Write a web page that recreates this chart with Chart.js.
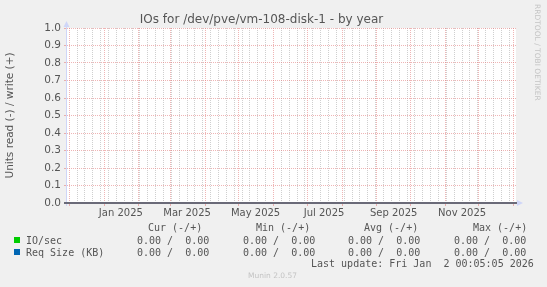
<!DOCTYPE html>
<html>
<head>
<meta charset="utf-8">
<script src="https://cdn.jsdelivr.net/npm/chart.js@4.4.1/dist/chart.umd.min.js"></script>
<style>
html, body { margin: 0; padding: 0; background: #f0f0f0; }
#wrap { position: relative; width: 547px; height: 287px; overflow: hidden; }
canvas { position: absolute; left: 0; top: 0; }
.t { position: absolute; white-space: pre; font-family: "DejaVu Sans Mono", monospace; font-size: 10px; line-height: 12px; color: #555; }
.sq { position: absolute; width: 6px; height: 6px; }
#rrd { position: absolute; left: 533px; top: 4px; writing-mode: vertical-rl; font-family: "DejaVu Sans", sans-serif; font-size: 7.5px; color: #c4c4c4; white-space: nowrap; }
#munin { position: absolute; left: 0; width: 545px; top: 271px; text-align: center; font-family: "DejaVu Sans", sans-serif; font-size: 7.5px; color: #c4c4c4; }
</style>
</head>
<body>
<div id="wrap">
  <canvas id="chart" width="547" height="287"></canvas>
  <div id="legend"></div>
  <div id="rrd">RRDTOOL / TOBI OETIKER</div>
  <div id="munin">Munin 2.0.57</div>
</div>
<script>
// x values are days since 29 Nov 2024 (graph start)
var xMin = 0;
var xMax = 400;
var monthStartDays = [2, 33, 64, 92, 123, 153, 184, 214, 245, 276, 306, 337, 367, 398];
var tickLabels = ['Jan 2025', 'Mar 2025', 'May 2025', 'Jul 2025', 'Sep 2025', 'Nov 2025'];
var tickLabelDays = [48, 107, 168, 229, 291, 352];
var firstSunday = 2;

// samples (all zero for the whole year)
var sampleDays = [0, 33, 64, 92, 123, 153, 184, 214, 245, 276, 306, 337, 367, 398, 400];
var ioRead   = [0, 0, 0, 0, 0, 0, 0, 0, 0, 0, 0, 0, 0, 0, 0];
var ioWrite  = [0, 0, 0, 0, 0, 0, 0, 0, 0, 0, 0, 0, 0, 0, 0];
var reqRead  = [0, 0, 0, 0, 0, 0, 0, 0, 0, 0, 0, 0, 0, 0, 0];
var reqWrite = [0, 0, 0, 0, 0, 0, 0, 0, 0, 0, 0, 0, 0, 0, 0];

var seriesNames = ['IO/sec', 'Req Size (KB)'];
var seriesColors = ['#00cc00', '#0066b3'];
// [read, write] per series
var curVals = [[0, 0], [0, 0]];
var minVals = [[0, 0], [0, 0]];
var avgVals = [[0, 0], [0, 0]];
var maxVals = [[0, 0], [0, 0]];
var lastUpdate = 'Last update: Fri Jan  2 00:05:05 2026';

var MAJOR = 'rgba(226, 120, 120, 0.55)';
var MINOR = 'rgba(175, 175, 175, 0.6)';
var AXIS = '#cfd6f8';

function pts(vals, sign) {
    return sampleDays.map(function(d, i) { return {x: d, y: sign * vals[i]}; });
}

// x tick positions: weekly minor lines, monthly major lines, label positions
var weekly = [];
for (var d = firstSunday; d <= xMax; d += 7) weekly.push(d);
var allTicks = {};
weekly.forEach(function(v) { allTicks[v] = 'minor'; });
monthStartDays.forEach(function(v) { allTicks[v] = 'major'; });
tickLabelDays.forEach(function(v) { if (!allTicks[v]) allTicks[v] = 'label'; });

function kindOf(v) { return allTicks[v] || 'label'; }

var axesPlugin = {
    id: 'rrdAxes',
    beforeDraw: function(chart) {
        var a = chart.chartArea, c = chart.ctx;
        c.save();
        c.fillStyle = '#ffffff';
        c.fillRect(a.left, a.top, a.right - a.left, a.bottom - a.top);
        c.restore();
    },
    afterDatasetsDraw: function(chart) {
        var a = chart.chartArea, c = chart.ctx;
        var x0 = Math.round(a.left) - 0.5;
        c.save();
        c.lineWidth = 1;
        // y axis with arrow
        c.strokeStyle = AXIS;
        c.beginPath();
        c.moveTo(x0, a.bottom + 3);
        c.lineTo(x0, a.top - 3);
        c.stroke();
        c.fillStyle = AXIS;
        c.beginPath();
        c.moveTo(x0 - 3, a.top - 1);
        c.lineTo(x0 + 3, a.top - 1);
        c.lineTo(x0, a.top - 7);
        c.closePath();
        c.fill();
        // x axis arrow
        c.beginPath();
        c.moveTo(a.right + 1, a.bottom - 3);
        c.lineTo(a.right + 1, a.bottom + 3);
        c.lineTo(a.right + 7, a.bottom);
        c.closePath();
        c.fill();
        // zero line (covers the zero-valued series)
        c.strokeStyle = '#6a6a78';
        c.lineWidth = 2;
        c.beginPath();
        c.moveTo(a.left - 3, a.bottom);
        c.lineTo(a.right + 1, a.bottom);
        c.stroke();
        c.restore();
    }
};

new Chart(document.getElementById('chart').getContext('2d'), {
    type: 'line',
    data: {
        datasets: [
            { label: 'IO/sec read', data: pts(ioRead, -1), borderColor: seriesColors[0], borderWidth: 1, pointRadius: 0 },
            { label: 'IO/sec write', data: pts(ioWrite, 1), borderColor: seriesColors[0], borderWidth: 1, pointRadius: 0 },
            { label: 'Req Size read', data: pts(reqRead, -1), borderColor: seriesColors[1], borderWidth: 1, pointRadius: 0 },
            { label: 'Req Size write', data: pts(reqWrite, 1), borderColor: seriesColors[1], borderWidth: 1, pointRadius: 0 }
        ]
    },
    options: {
        responsive: false,
        animation: false,
        devicePixelRatio: 1,
        layout: { padding: { left: 0, right: 24, top: 0, bottom: 0 } },
        plugins: {
            legend: { display: false },
            tooltip: { enabled: false },
            title: {
                display: true,
                text: 'IOs for /dev/pve/vm-108-disk-1 - by year',
                color: '#555',
                font: { family: 'DejaVu Sans', size: 12, weight: 'normal' },
                padding: { top: 13, bottom: 0.6 }
            }
        },
        scales: {
            x: {
                type: 'linear',
                min: xMin,
                max: xMax,
                afterFit: function(s) { s.height = 84; },
                afterBuildTicks: function(s) {
                    s.ticks = Object.keys(allTicks).map(Number).sort(function(a, b) { return a - b; })
                        .map(function(v) { return {value: v}; });
                },
                ticks: {
                    autoSkip: false,
                    maxRotation: 0,
                    padding: 1,
                    color: '#555',
                    font: { family: 'DejaVu Sans', size: 10 },
                    callback: function(v) {
                        var i = tickLabelDays.indexOf(v);
                        return i >= 0 ? tickLabels[i] : '';
                    }
                },
                grid: {
                    lineWidth: 1,
                    tickLength: 3,
                    color: function(ctx) {
                        var k = ctx.tick ? kindOf(ctx.tick.value) : 'label';
                        return k === 'major' ? MAJOR : k === 'minor' ? MINOR : 'rgba(0,0,0,0)';
                    },
                    tickColor: function(ctx) {
                        var k = ctx.tick ? kindOf(ctx.tick.value) : 'label';
                        return k === 'major' ? MAJOR : 'rgba(0,0,0,0)';
                    }
                },
                border: { display: false, dash: [1, 1] }
            },
            y: {
                min: 0,
                max: 1,
                afterFit: function(s) { s.width = 67; },
                ticks: {
                    stepSize: 0.1,
                    padding: 3,
                    color: '#555',
                    font: { family: 'DejaVu Sans', size: 10.5 },
                    callback: function(v) { return v.toFixed(1); }
                },
                grid: { color: MAJOR, lineWidth: 1, tickLength: 3 },
                border: { display: false, dash: [1, 1] },
                title: {
                    display: true,
                    text: 'Units read (-) / write (+)',
                    color: '#555',
                    font: { family: 'DejaVu Sans', size: 10.5 },
                    padding: { top: 4, bottom: 0 }
                }
            },
            yRight: {
                position: 'right',
                min: 0,
                max: 1,
                afterFit: function(s) { s.width = 7; },
                ticks: { display: false },
                grid: { display: false, drawOnChartArea: false },
                border: { display: false }
            }
        }
    },
    plugins: [axesPlugin]
});

// legend block below the graph
var legend = document.getElementById('legend');
function addText(txt, left, top) {
    var el = document.createElement('div');
    el.className = 't';
    el.style.left = left + 'px';
    el.style.top = top + 'px';
    el.textContent = txt;
    legend.appendChild(el);
}
function pair(p) { return p[0].toFixed(2) + ' /  ' + p[1].toFixed(2); }

var colLeft = [137, 243, 348, 454];
var headLeft = [148, 256, 364, 473];
['Cur (-/+)', 'Min (-/+)', 'Avg (-/+)', 'Max (-/+)'].forEach(function(h, i) { addText(h, headLeft[i], 222); });
seriesNames.forEach(function(name, i) {
    var top = 235 + i * 11.5;
    var sq = document.createElement('div');
    sq.className = 'sq';
    sq.style.left = '14px';
    sq.style.top = (top + 2) + 'px';
    sq.style.background = seriesColors[i];
    legend.appendChild(sq);
    addText(name, 26, top);
    [curVals, minVals, avgVals, maxVals].forEach(function(arr, j) { addText(pair(arr[i]), colLeft[j], top); });
});
addText(lastUpdate, 311, 258);
</script>
</body>
</html>
